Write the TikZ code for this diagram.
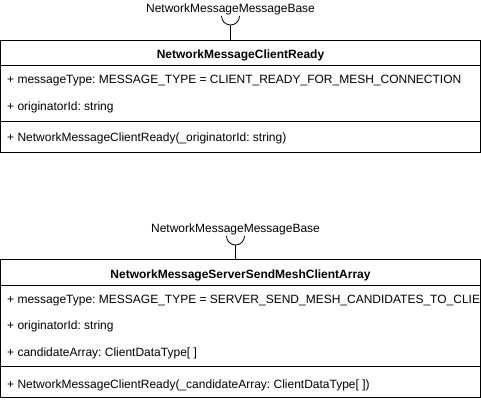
\documentclass[tikz,border=0pt]{standalone}
\usepackage{fontspec}
\setmainfont{Liberation Sans}
\frenchspacing
\begin{document}
\begin{tikzpicture}[x=1pt,y=-1pt,
  member/.style={anchor=west,inner sep=0pt,font=\fontsize{12}{14}\selectfont},
  classname/.style={inner sep=0pt,font=\fontsize{12}{14}\selectfont\bfseries},
  iface/.style={inner sep=0pt,font=\fontsize{12}{14}\selectfont},
  socket/.style={line width=0.8pt}]
\useasboundingbox (0,0) rectangle (481,401);

% NetworkMessageClientReady
\draw (0.5,40.5) rectangle (480.5,152.5);
\draw (0.5,65.5)--(480.5,65.5);
\draw (0.5,121.5)--(480.5,121.5);
\node[classname] (readyName) at (240.5,55.5) {NetworkMessageClientReady};
\node[member] (readyType) at (7,80.5) {+ messageType: MESSAGE\_TYPE = CLIENT\_READY\_FOR\_MESH\_CONNECTION};
\node[member] (readyId) at (7,107.5) {+ originatorId: string};
\node[member] (readyCtor) at (7,138.5) {+ NetworkMessageClientReady(\_originatorId: string)};
% interface lollipop
\node[iface] (readyBase) at (230.5,9) {NetworkMessageMessageBase};
\coordinate (readyTop) at (230.5,40.5);
\coordinate (readySock) at (230.5,25);
\draw[socket] (readyTop)--(readySock);
\draw[socket] (221.5,16) arc[start angle=180,end angle=0,radius=9];

% NetworkMessageServerSendMeshClientArray
\draw (0.5,259.5) rectangle (480.5,397.5);
\draw (0.5,285.5)--(480.5,285.5);
\draw (0.5,366.5)--(480.5,366.5);
\node[classname] (arrayName) at (240.5,275) {NetworkMessageServerSendMeshClientArray};
\begin{scope}
\clip (0.5,285.5) rectangle (479.5,366.5);
\node[member] (arrayType) at (7,300.5) {+ messageType: MESSAGE\_TYPE = SERVER\_SEND\_MESH\_CANDIDATES\_TO\_CLIENT};
\end{scope}
\node[member] (arrayId) at (7,326.5) {+ originatorId: string};
\node[member] (arrayList) at (7,353) {+ candidateArray: ClientDataType[ ]};
\node[member] (arrayCtor) at (7,385.5) {+ NetworkMessageClientReady(\_candidateArray: ClientDataType[ ])};
% interface lollipop
\node[iface] (arrayBase) at (235.5,229) {NetworkMessageMessageBase};
\coordinate (arrayTop) at (235.5,259.5);
\coordinate (arraySock) at (235.5,245);
\draw[socket] (arrayTop)--(arraySock);
\draw[socket] (226.5,236) arc[start angle=180,end angle=0,radius=9];
\end{tikzpicture}
\end{document}
